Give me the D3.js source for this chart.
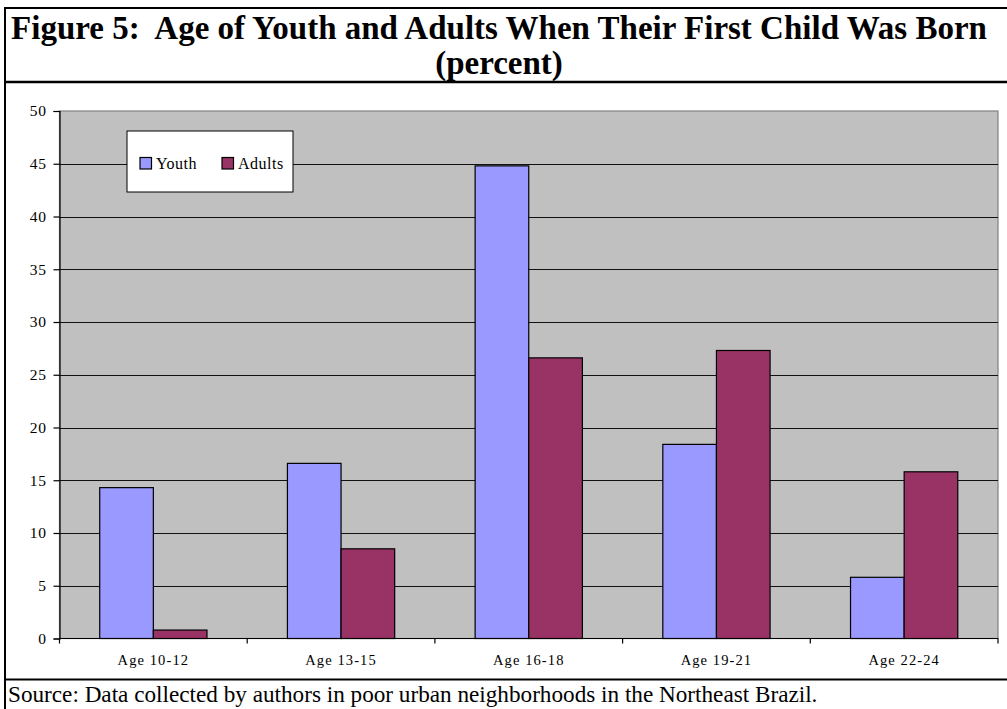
<!DOCTYPE html>
<html>
<head>
<meta charset="utf-8">
<script src="https://cdn.jsdelivr.net/npm/d3@7"></script>
<style>
  body { margin: 0; background: #fff; }
  svg { display: block; }
  text { font-family: "Liberation Serif", "Times New Roman", serif; fill: #000; white-space: pre; }
</style>
</head>
<body>
<svg id="chart" width="1007" height="709"></svg>
<script>
// Age at birth of first child, percent of respondents
const categories = ["Age 10-12", "Age 13-15", "Age 16-18", "Age 19-21", "Age 22-24"];
const seriesNames = ["Youth", "Adults"];
const youthValues = [14.3, 16.6, 44.8, 18.4, 5.8];
const adultValues = [0.8, 8.5, 26.6, 27.3, 15.8];
const yTickValues = [0, 5, 10, 15, 20, 25, 30, 35, 40, 45, 50];
const seriesColors = ["#9999ff", "#993366"];

const titleLines = ["Figure 5:  Age of Youth and Adults When Their First Child Was Born", "(percent)"];
const sourceNote = "Source: Data collected by authors in poor urban neighborhoods in the Northeast Brazil.";

const svg = d3.select("#chart");
const W = 1007, H = 709;

// Plot area
const plot = { left: 59.5, right: 998, top: 111, bottom: 638.5 };

const x = d3.scaleBand().domain(categories).range([plot.left, plot.right]).padding(0);
const bw = x.bandwidth();
// Excel-style gap width of 150%: two bars plus 1.5 bar widths per category
const xs = d3.scaleBand().domain(seriesNames)
  .range([bw * 0.75 / 3.5, bw * 2.75 / 3.5]).padding(0);
const y = d3.scaleLinear().domain([0, 50]).range([plot.bottom, plot.top]);

// Outer frame lines
const frame = svg.append("g").attr("stroke", "#000").attr("fill", "none");
frame.append("line").attr("x1", 5).attr("x2", 5).attr("y1", 7).attr("y2", H).attr("stroke-width", 2);
frame.append("line").attr("x1", 4).attr("x2", W).attr("y1", 8).attr("y2", 8).attr("stroke-width", 2);
frame.append("line").attr("x1", 4).attr("x2", W).attr("y1", 82).attr("y2", 82).attr("stroke-width", 2.5);
frame.append("line").attr("x1", 4).attr("x2", W).attr("y1", 679.5).attr("y2", 679.5).attr("stroke-width", 2);

// Title
svg.append("g").selectAll("text").data(titleLines).join("text")
  .attr("x", 499)
  .attr("y", (d, i) => 39 + i * 35)
  .attr("text-anchor", "middle")
  .attr("font-size", 33)
  .attr("font-weight", "bold")
  .text(d => d);

// Plot background
svg.append("rect")
  .attr("x", plot.left).attr("y", plot.top)
  .attr("width", plot.right - plot.left).attr("height", plot.bottom - plot.top)
  .attr("fill", "#c0c0c0").attr("stroke", "#808080").attr("stroke-width", 1.2);

// Gridlines
svg.append("g").selectAll("line").data(yTickValues.filter(v => v > 0 && v < 50)).join("line")
  .attr("x1", plot.left).attr("x2", plot.right)
  .attr("y1", d => Math.round(y(d)) + 0.5).attr("y2", d => Math.round(y(d)) + 0.5)
  .attr("stroke", "#111").attr("stroke-width", 1);

// Bars
const seriesData = [youthValues, adultValues];
const groups = svg.append("g").selectAll("g").data(categories).join("g")
  .attr("transform", d => `translate(${x(d)},0)`);
groups.selectAll("rect")
  .data((c, i) => seriesNames.map((s, k) => ({ s, v: seriesData[k][i], k })))
  .join("rect")
  .attr("x", d => xs(d.s))
  .attr("y", d => y(d.v))
  .attr("width", xs.bandwidth())
  .attr("height", d => y(0) - y(d.v))
  .attr("fill", d => seriesColors[d.k])
  .attr("stroke", "#000").attr("stroke-width", 1.2);

// Y axis
const yAxis = svg.append("g")
  .attr("transform", `translate(${plot.left},0)`)
  .call(d3.axisLeft(y).tickValues(yTickValues).tickSize(6).tickPadding(7));
yAxis.select(".domain").attr("stroke", "#000").attr("stroke-width", 1.2);
yAxis.selectAll(".tick line").attr("stroke", "#000").attr("stroke-width", 1.2);
yAxis.selectAll(".tick text").attr("font-size", 15.5)
  .attr("letter-spacing", 0.6);

// X axis: ticks at category boundaries
const boundaries = d3.range(categories.length + 1).map(i => plot.left + i * bw);
const xAxis = svg.append("g");
xAxis.append("line").attr("x1", plot.left).attr("x2", plot.right)
  .attr("y1", plot.bottom).attr("y2", plot.bottom)
  .attr("stroke", "#000").attr("stroke-width", 1.2);
xAxis.selectAll("line.tick").data(boundaries).join("line").attr("class", "tick")
  .attr("x1", d => d).attr("x2", d => d)
  .attr("y1", plot.bottom).attr("y2", plot.bottom + 5)
  .attr("stroke", "#000").attr("stroke-width", 1.2);
xAxis.selectAll("text").data(categories).join("text")
  .attr("x", d => x(d) + bw / 2)
  .attr("y", 665)
  .attr("text-anchor", "middle")
  .attr("font-size", 14.5)
  .attr("letter-spacing", 1.1)
  .text(d => d);

// Legend
const legend = svg.append("g");
legend.append("rect").attr("x", 127).attr("y", 131).attr("width", 166).attr("height", 61)
  .attr("fill", "#fff").attr("stroke", "#000").attr("stroke-width", 1);
const legendX = [140, 222];
const items = legend.selectAll("g").data(seriesNames).join("g")
  .attr("transform", (d, i) => `translate(${legendX[i]},157.5)`);
items.append("rect").attr("width", 11.5).attr("height", 11.5)
  .attr("fill", (d, i) => seriesColors[i]).attr("stroke", "#000").attr("stroke-width", 1.2);
items.append("text").attr("x", 16).attr("y", 11)
  .attr("font-size", 16).attr("letter-spacing", 0.5)
  .text(d => d);

// Source note
svg.append("text")
  .attr("x", 8).attr("y", 702)
  .attr("font-size", 23.2)
  .text(sourceNote);
</script>
</body>
</html>
